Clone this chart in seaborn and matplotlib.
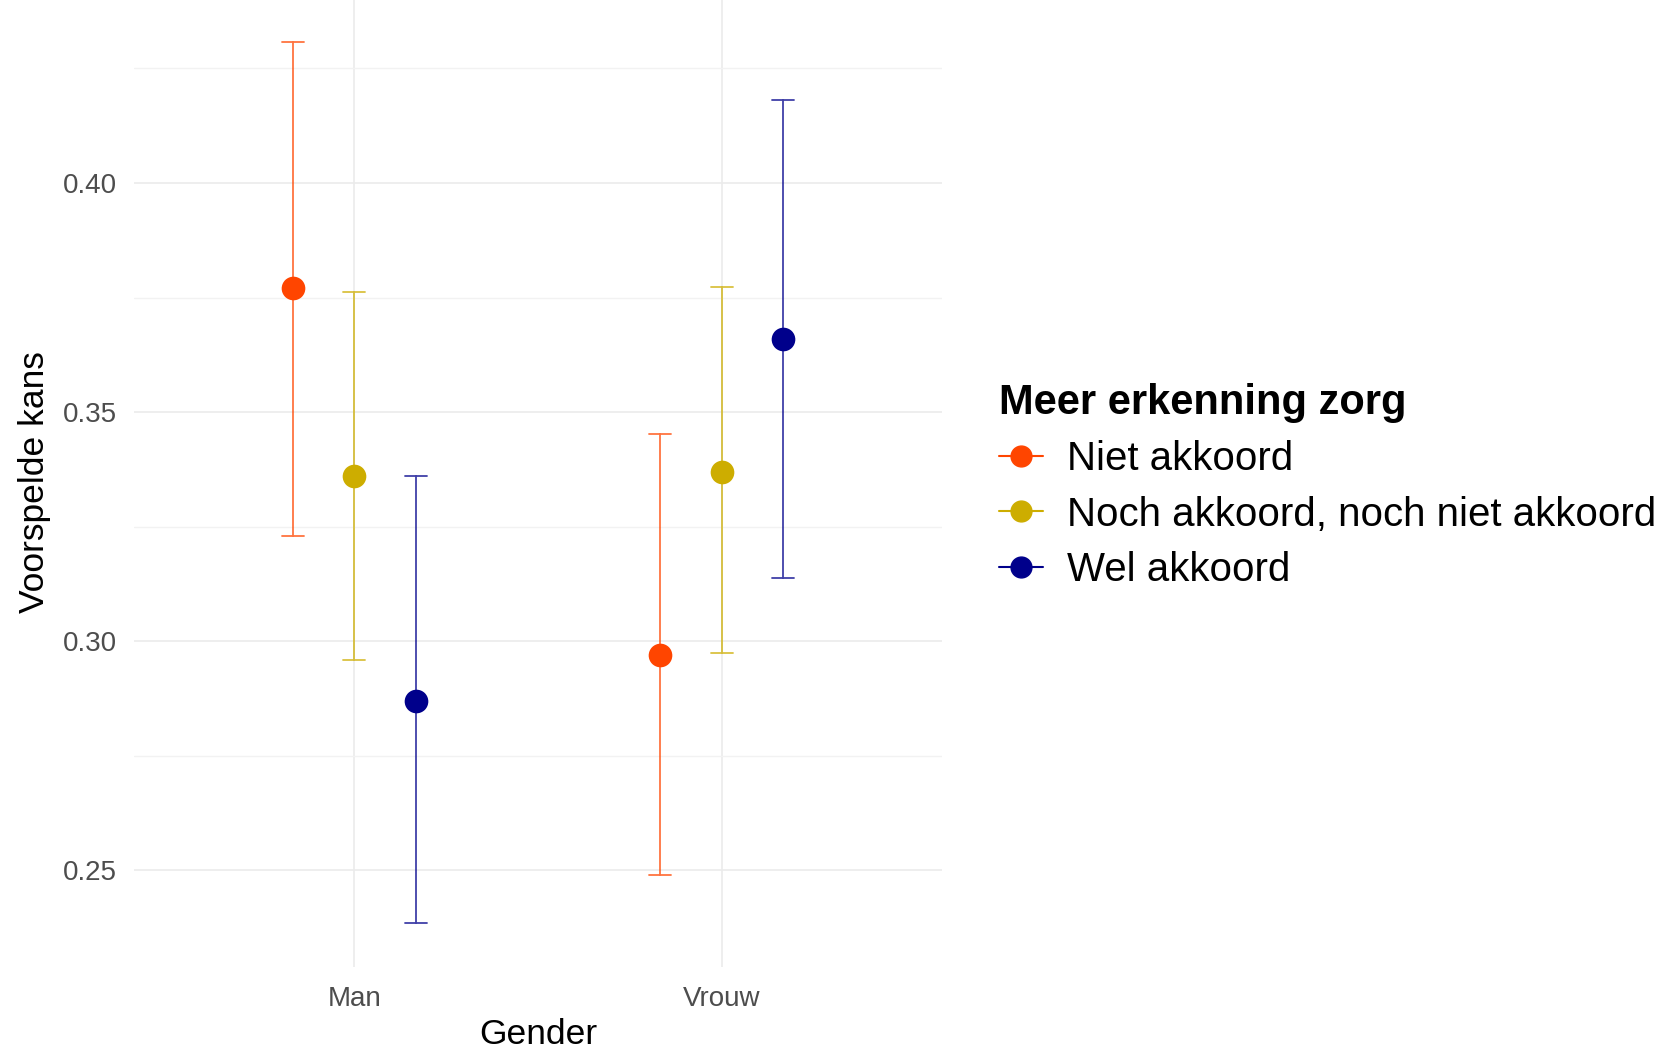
import matplotlib

matplotlib.use("Agg")

import matplotlib.pyplot as plt
import pandas as pd
import seaborn as sns
from matplotlib.lines import Line2D
from matplotlib.ticker import FixedLocator, FormatStrFormatter


# values
GENDERS = ["Man", "Vrouw"]
GROUPS = ["Niet akkoord", "Noch akkoord, noch niet akkoord", "Wel akkoord"]
COLORS = ["#FF4500", "#CDAD00", "#00008B"]

# predicted probability and its interval, per gender (rows) and group (columns)
ESTIMATE = [[0.377, 0.336, 0.287],
            [0.297, 0.337, 0.366]]
LOWER = [[0.323, 0.296, 0.2385],
         [0.249, 0.2975, 0.3137]]
UPPER = [[0.4308, 0.3762, 0.336],
         [0.3453, 0.3773, 0.4182]]


def build_frame():
    # three rows per cell: lower, estimate, upper -> median + full-range interval
    rows = []
    for gi, gender in enumerate(GENDERS):
        for hi, group in enumerate(GROUPS):
            for val in (LOWER[gi][hi], ESTIMATE[gi][hi], UPPER[gi][hi]):
                rows.append({"Gender": gender, "groep": group, "kans": val})
    return pd.DataFrame(rows)


def main():
    df = build_frame()

    sns.set_theme(style="white")
    plt.rcParams["font.family"] = ["Liberation Sans", "DejaVu Sans"]

    fig = plt.figure(figsize=(16.79, 10.54), dpi=100)
    ax = fig.add_axes([0.0798, 0.0825, 0.4813, 0.9195])

    sns.pointplot(
        data=df, x="Gender", y="kans", hue="groep",
        order=GENDERS, hue_order=GROUPS, palette=COLORS,
        estimator="median", errorbar=("pi", 100),
        dodge=0.334, linestyle="none", marker="o", markersize=15,
        capsize=0.06, err_kws={"linewidth": 1.3, "alpha": 0.75},
        legend=False, ax=ax, zorder=3,
    )

    ax.set_xlim(0.4 - 1, 2.6 - 1)
    ax.set_ylim(0.2289, 0.4404)
    ax.yaxis.set_major_locator(FixedLocator([0.25, 0.30, 0.35, 0.40]))
    ax.yaxis.set_minor_locator(FixedLocator([0.275, 0.325, 0.375, 0.425]))
    ax.yaxis.set_major_formatter(FormatStrFormatter("%.2f"))

    ax.grid(True, which="major", axis="both", color="#EBEBEB", linewidth=1.2)
    ax.grid(True, which="minor", axis="y", color="#F2F2F2", linewidth=1.0)
    ax.set_axisbelow(True)
    for spine in ax.spines.values():
        spine.set_visible(False)

    ax.tick_params(axis="both", which="both", length=0, labelsize=20,
                   labelcolor="#4D4D4D")
    ax.tick_params(axis="x", pad=14)
    ax.tick_params(axis="y", pad=12)
    ax.set_xlabel("Gender", fontsize=25.5, color="black", labelpad=4)
    ax.set_ylabel("Voorspelde kans", fontsize=25.5, color="black", labelpad=9)

    handles = [
        Line2D([0], [0], color=c, marker="o", markersize=15, linewidth=1.5,
               markerfacecolor=c, markeredgecolor=c)
        for c in COLORS
    ]
    leg = fig.legend(
        handles, GROUPS, title="Meer erkenning zorg",
        loc="center left", bbox_to_anchor=(0.595, 0.539),
        frameon=False, fontsize=29, labelcolor="black",
        title_fontproperties={"size": 30, "weight": "bold"},
        handlelength=1.1, handletextpad=0.6, labelspacing=0.43,
        borderpad=0, borderaxespad=0, alignment="left",
    )
    leg.get_title().set_color("black")

    fig.savefig("out.png", dpi=100)
    plt.close(fig)


if __name__ == "__main__":
    main()
